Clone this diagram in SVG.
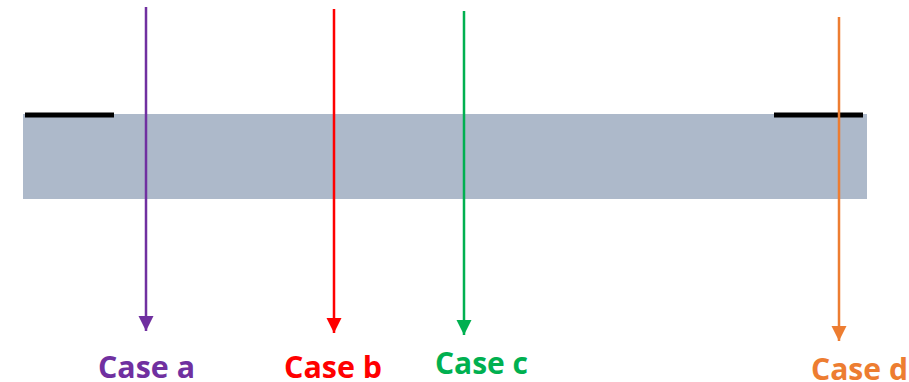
<svg xmlns="http://www.w3.org/2000/svg" width="909" height="382" viewBox="0 0 909 382">
<style>
.lbl{font-family:"Open Sans","Liberation Sans",sans-serif;font-weight:bold;font-size:31px}
.ar{stroke-width:2.5;fill:none}
</style>
<defs>
<marker id="mA" markerUnits="userSpaceOnUse" markerWidth="16" markerHeight="16" viewBox="0 0 16 16" refX="15" refY="8" orient="auto"><path d="M0,0.5 L15,8 L0,15.5 Z" fill="#7030A0"/></marker>
<marker id="mB" markerUnits="userSpaceOnUse" markerWidth="16" markerHeight="16" viewBox="0 0 16 16" refX="15" refY="8" orient="auto"><path d="M0,0.5 L15,8 L0,15.5 Z" fill="#FF0000"/></marker>
<marker id="mC" markerUnits="userSpaceOnUse" markerWidth="16" markerHeight="16" viewBox="0 0 16 16" refX="15" refY="8" orient="auto"><path d="M0,0.5 L15,8 L0,15.5 Z" fill="#00B050"/></marker>
<marker id="mD" markerUnits="userSpaceOnUse" markerWidth="16" markerHeight="16" viewBox="0 0 16 16" refX="15" refY="8" orient="auto"><path d="M0,0.5 L15,8 L0,15.5 Z" fill="#ED7D31"/></marker>
</defs>
<g id="slab">
<rect x="23" y="114" width="844" height="85" fill="#ADB9CA"/>
</g>
<g id="edges">
<line x1="25" y1="115" x2="114" y2="115" stroke="#000" stroke-width="5"/>
<line x1="774" y1="115" x2="863" y2="115" stroke="#000" stroke-width="5"/>
</g>
<g id="connectors">
<line class="ar" x1="146" y1="7" x2="146" y2="331" stroke="#7030A0" marker-end="url(#mA)"/>
<line class="ar" x1="334" y1="9" x2="334" y2="333" stroke="#FF0000" marker-end="url(#mB)"/>
<line class="ar" x1="464" y1="11" x2="464" y2="335" stroke="#00B050" marker-end="url(#mC)"/>
<line class="ar" x1="839" y1="17" x2="839" y2="341" stroke="#ED7D31" marker-end="url(#mD)"/>
</g>
<g id="caseA"><text class="lbl" x="98" y="378" fill="#7030A0" textLength="97" lengthAdjust="spacingAndGlyphs">Case a</text></g>
<g id="caseB"><text class="lbl" x="284" y="378" fill="#FF0000" textLength="98" lengthAdjust="spacingAndGlyphs">Case b</text></g>
<g id="caseC"><text class="lbl" x="435" y="374" fill="#00B050" textLength="93" lengthAdjust="spacingAndGlyphs">Case c</text></g>
<g id="caseD"><text class="lbl" x="811" y="380" fill="#ED7D31" textLength="97" lengthAdjust="spacingAndGlyphs">Case d</text></g>
</svg>
